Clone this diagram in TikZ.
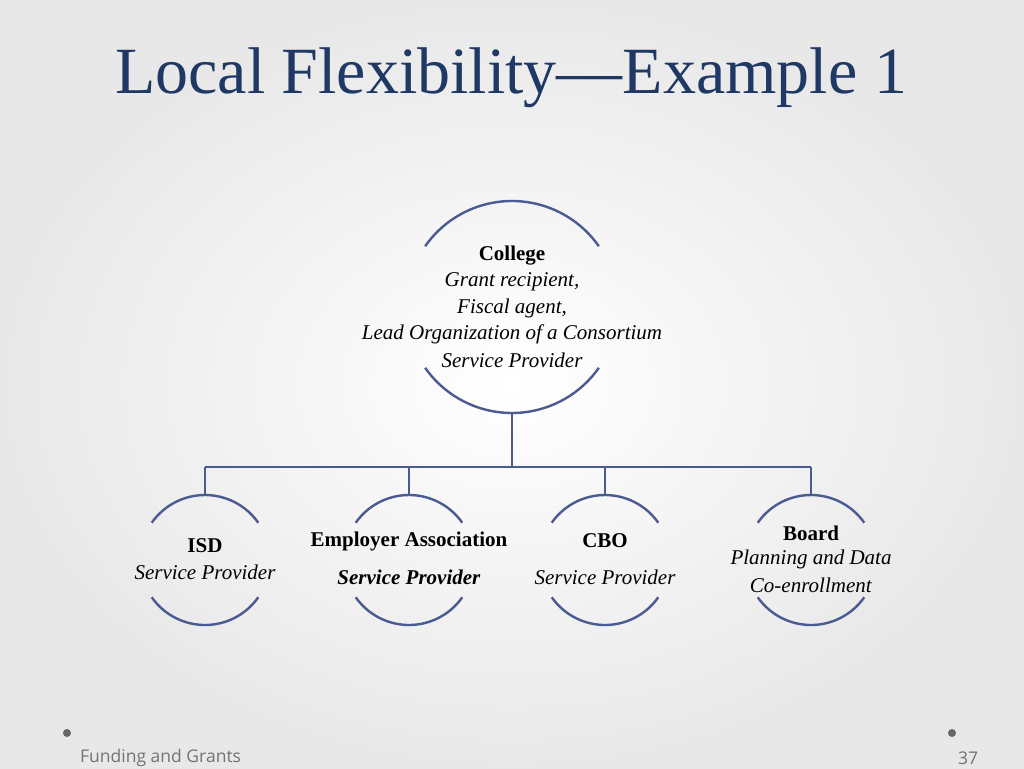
\documentclass[tikz,border=0pt]{standalone}
\usepackage{fontspec}
\setmainfont{Liberation Serif}
\newfontfamily\footfont{Open Sans}
\definecolor{ttl}{HTML}{1F3864}
\definecolor{ln}{HTML}{4A5A92}
\begin{document}
\begin{tikzpicture}[x=1pt,y=-1pt,
  arcl/.style={draw=ln,line width=2.4pt},
  lbl/.style={font=\fontsize{21}{24}\selectfont,align=center,inner sep=0},
  foot/.style={font=\footfont\fontsize{17.5}{20}\selectfont,text=gray!90!black,inner sep=0}]
\useasboundingbox (0,0) rectangle (1024,768);
\shade[inner color=white,outer color=gray!18] (0,0) rectangle (1024,768);
\node[font=\fontsize{66}{72}\selectfont,text=ttl,inner sep=0] (title) at (511,78) {Local Flexibility—Example 1};
% big circle
\coordinate (cc) at (512,307);
\draw[arcl] (cc) ++(145:106) arc[start angle=145,end angle=35,radius=106];
\draw[arcl] (cc) ++(-145:106) arc[start angle=-145,end angle=-35,radius=106];
\coordinate (ctop) at (512,413);
\coordinate (bar) at (512,467);
\draw[arcl] (ctop) -- (bar);
\draw[arcl] (205,467) -- (811,467);
\foreach \x/\n in {205/a,409/b,605/c,811/d}{
  \coordinate (t\n) at (\x,467);
  \coordinate (s\n) at (\x,495);
  \draw[arcl] (t\n) -- (s\n);
  \draw[arcl] (\x,560) ++(145:65) arc[start angle=145,end angle=35,radius=65];
  \draw[arcl] (\x,560) ++(-145:65) arc[start angle=-145,end angle=-35,radius=65];
}
\node[lbl] (college) at (512,256) {\textbf{College}};
\node[lbl] (c1) at (512,282) {\textit{Grant recipient,}};
\node[lbl] (c2) at (512,308) {\textit{Fiscal agent,}};
\node[lbl] (c3) at (512,334) {\textit{Lead Organization of a Consortium}};
\node[lbl] (c4) at (512,360) {\textit{Service Provider}};
\node[lbl] (isd) at (205,546) {\textbf{ISD}};
\node[lbl] (isd2) at (205,572) {\textit{Service Provider}};
\node[lbl] (ea) at (409,541) {\textbf{Employer Association}};
\node[lbl] (ea2) at (409,577) {\textbf{\textit{Service Provider}}};
\node[lbl] (cbo) at (605,541) {\textbf{CBO}};
\node[lbl] (cbo2) at (605,577) {\textit{Service Provider}};
\node[lbl] (bd) at (811,533) {\textbf{Board}};
\node[lbl] (bd2) at (811,559) {\textit{Planning and Data}};
\node[lbl] (bd3) at (811,585) {\textit{Co-enrollment}};
\fill[gray!80!black] (67,733) circle (4);
\fill[gray!80!black] (952,733) circle (4);
\node[foot,anchor=west] (ft) at (80,758) {Funding and Grants};
\node[foot] (pg) at (968,758) {37};
\end{tikzpicture}
\end{document}
